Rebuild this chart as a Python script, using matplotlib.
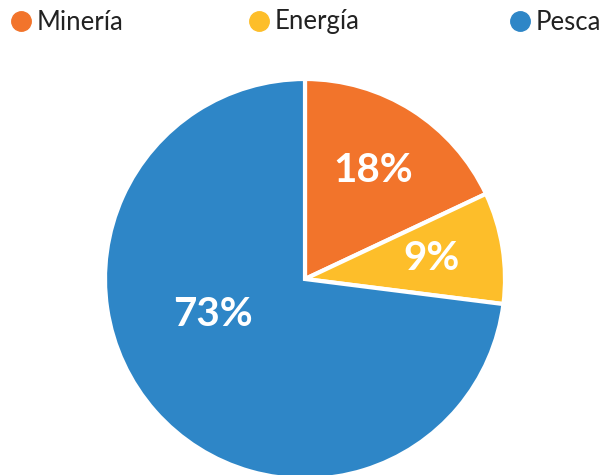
import matplotlib.pyplot as plt
from matplotlib.lines import Line2D

sectores = ["Minería", "Energía", "Pesca"]
porcentajes = [18, 9, 73]
colores = ["#F2742B", "#FDBE2A", "#2E86C7"]

plt.rcParams["font.family"] = ["Lato", "DejaVu Sans"]

fig = plt.figure(figsize=(6.01, 4.75), dpi=100)
ax = fig.add_axes([0, 0, 1, 1])

wedges, textos, pcts = ax.pie(
    porcentajes, colors=colores, startangle=90, counterclock=False,
    autopct="%d%%", pctdistance=0.64,
    wedgeprops=dict(edgecolor="white", linewidth=3),
    textprops=dict(color="white", fontsize=29, fontweight="bold"),
)
# la etiqueta grande va un poco más al centro
pcts[2].set_position((-0.46, -0.18))

ax.set_xlim(-1.525, 1.48)
ax.set_ylim(-0.98, 1.395)
ax.set_aspect("auto")
ax.axis("off")

# leyenda: una entrada por columna, repartidas a lo ancho
pos_x = [8, 246, 507]
for nombre, c, x in zip(sectores, colores, pos_x):
    h = Line2D([], [], marker="o", linestyle="", markersize=14,
               markerfacecolor=c, markeredgecolor=c)
    fig.legend([h], [nombre], loc="center left",
               bbox_to_anchor=(x / 601, 1 - 22 / 475), frameon=False,
               fontsize=18.5, handletextpad=0.1, labelcolor="#222222",
               borderaxespad=0, borderpad=0, handlelength=1.0)

plt.savefig("out.png", dpi=100)
